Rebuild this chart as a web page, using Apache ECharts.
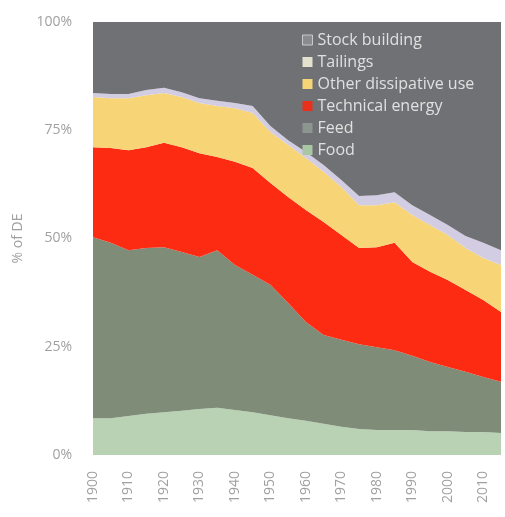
<!DOCTYPE html>
<html>
<head>
<meta charset="utf-8">
<script src="https://cdn.jsdelivr.net/npm/echarts@6/dist/echarts.min.js"></script>
<style>
  html, body { margin: 0; padding: 0; background: #ffffff; }
  #chart { width: 505px; height: 517px; }
</style>
</head>
<body>
<div id="chart"></div>
<script>
// Share of domestic extraction (% of DE) by end use, stacked to 100%
const years = [1900, 1905, 1910, 1915, 1920, 1925, 1930, 1935, 1940, 1945, 1950, 1955,
               1960, 1965, 1970, 1975, 1980, 1985, 1990, 1995, 2000, 2005, 2010, 2015];

const food = [8.5, 8.5, 9.0, 9.5, 9.9, 10.2, 10.6, 10.9, 10.4, 9.9, 9.2, 8.5,
              7.9, 7.2, 6.5, 6.0, 5.8, 5.8, 5.8, 5.5, 5.5, 5.3, 5.3, 5.1];
const feed = [41.8, 40.5, 38.3, 38.3, 38.1, 36.7, 35.1, 36.4, 33.5, 31.7, 30.1, 26.6,
              22.8, 20.5, 20.1, 19.6, 19.1, 18.4, 17.1, 16.0, 14.8, 13.9, 12.7, 11.8];
const technicalEnergy = [20.8, 21.9, 23.1, 23.3, 24.1, 24.2, 24.0, 21.5, 23.8, 24.7, 23.5, 24.5,
                         25.9, 26.1, 24.2, 22.2, 23.1, 24.8, 21.7, 20.8, 20.1, 18.9, 17.8, 16.1];
const otherDissipative = [11.6, 11.5, 12.0, 12.0, 11.5, 11.6, 11.6, 11.8, 12.4, 12.7, 11.8, 12.0,
                          12.0, 11.6, 11.1, 9.9, 9.7, 9.4, 10.8, 10.8, 10.4, 9.7, 9.7, 10.9];
const tailings = [0.9, 1.0, 1.0, 1.2, 1.2, 1.1, 1.1, 1.2, 1.2, 1.6, 1.4, 1.1,
                  1.4, 1.6, 1.6, 2.1, 2.3, 2.3, 2.3, 2.3, 2.3, 2.8, 3.5, 3.4];
const stockBuilding = [16.4, 16.6, 16.6, 15.7, 15.2, 16.2, 17.6, 18.2, 18.7, 19.4, 24.0, 27.3,
                       30.0, 33.0, 36.5, 40.2, 40.0, 39.3, 42.3, 44.6, 46.9, 49.4, 51.0, 52.7];

const yTicks = [0, 25, 50, 75, 100];

// bottom-to-top stacking order
const layers = [
  { name: 'Food', data: food, color: '#b9d2b3' },
  { name: 'Feed', data: feed, color: '#7e8c78' },
  { name: 'Technical energy', data: technicalEnergy, color: '#fe2b13' },
  { name: 'Other dissipative use', data: otherDissipative, color: '#f7d476' },
  { name: 'Tailings', data: tailings, color: '#d2cde2' },
  { name: 'Stock building', data: stockBuilding, color: '#707174' }
];

const legendIcons = {
  'Stock building': { color: '#8a8b8e', borderColor: '#c9c9cc', borderWidth: 1 },
  'Tailings': { color: '#e4e2cf' },
  'Other dissipative use': { color: '#f7d476' },
  'Technical energy': { color: '#e8301c' },
  'Feed': { color: '#8d9590' },
  'Food': { color: '#a9c6a5' }
};

const chart = echarts.init(document.getElementById('chart'), null, { renderer: 'canvas' });

chart.setOption({
  animation: false,
  backgroundColor: '#ffffff',
  grid: { left: 93, right: 4, top: 22, bottom: 62 },
  legend: {
    orient: 'vertical',
    left: 297,
    top: 26,
    itemGap: 4,
    itemWidth: 10,
    itemHeight: 10,
    icon: 'rect',
    textStyle: { color: '#e0e0e0', fontSize: 16, lineHeight: 18, fontFamily: 'Open Sans' },
    data: layers.slice().reverse().map(l => ({ name: l.name, itemStyle: legendIcons[l.name] }))
  },
  xAxis: {
    type: 'category',
    data: years.map(String),
    boundaryGap: false,
    axisLine: { show: false },
    axisTick: { show: false },
    splitLine: { show: false },
    axisLabel: {
      interval: 1,
      rotate: 90,
      color: '#a0a0a0',
      fontSize: 14,
      fontFamily: 'Open Sans',
      margin: 16
    }
  },
  yAxis: {
    type: 'value',
    min: yTicks[0],
    max: yTicks[yTicks.length - 1],
    interval: 25,
    name: '% of DE',
    nameLocation: 'middle',
    nameGap: 62,
    nameTextStyle: { color: '#a0a0a0', fontSize: 14, fontFamily: 'Open Sans' },
    axisLine: { show: false },
    axisTick: { show: false },
    splitLine: { show: false },
    axisLabel: {
      color: '#a0a0a0',
      fontSize: 14,
      fontFamily: 'Open Sans',
      margin: 21,
      formatter: '{value}%'
    }
  },
  series: layers.map(l => ({
    name: l.name,
    type: 'line',
    stack: 'total',
    symbol: 'none',
    smooth: false,
    lineStyle: { width: 0 },
    itemStyle: { color: l.color },
    areaStyle: { color: l.color, opacity: 1 },
    data: l.data
  }))
});
</script>
</body>
</html>
